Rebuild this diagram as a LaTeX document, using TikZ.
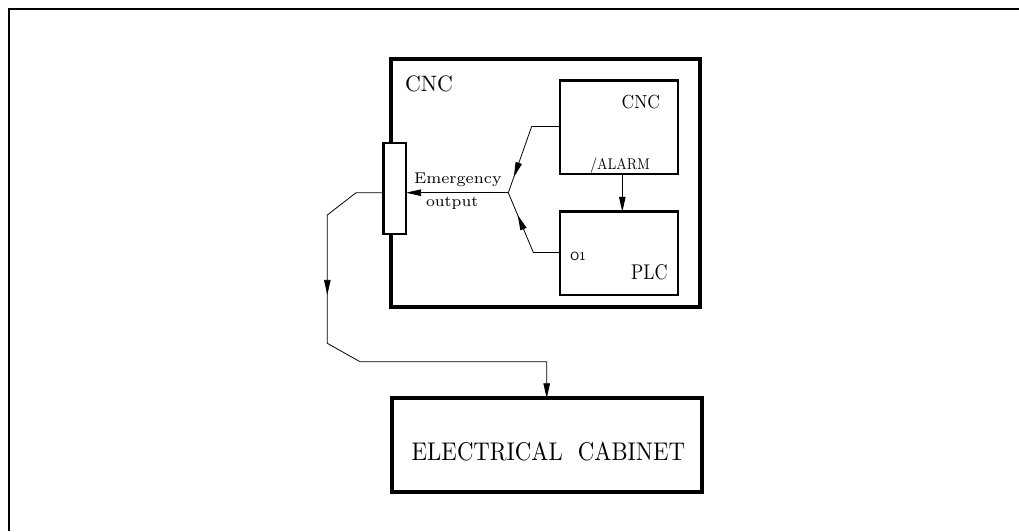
\documentclass[tikz,border=0pt]{standalone}
\usepackage{fontspec}
\usepackage{graphicx}
\usetikzlibrary{arrows.meta,decorations.markings}
\begin{document}
\begin{tikzpicture}[x=1pt,y=-1pt,
  thickbox/.style={draw,line width=3.8pt,minimum width=#1,inner sep=0pt,outer sep=0pt},
  midbox/.style={draw,line width=2.8pt,inner sep=0pt,outer sep=0pt},
  wire/.style={line width=0.8pt},
  tip/.style={-{Triangle[length=15pt,width=6.5pt]}},
  midtip/.style={postaction={decorate},decoration={markings,mark=at position #1 with {\arrow{Triangle[length=15pt,width=6.5pt]}}}},
  lbl/.style={inner sep=0pt,outer sep=0pt,font=\fontsize{10}{10}\selectfont},
  small/.style={inner sep=0pt,outer sep=0pt,font=\fontsize{7}{7}\selectfont}
]
\useasboundingbox (0,0) rectangle (1019,531);
% frame
\draw[line width=2.5pt] (9,531) -- (9,9) -- (1019,9);
% boxes
\node[thickbox=309pt,minimum height=247.4pt] (cnc) at (545.5,183) {};
\node[midbox,minimum width=118pt,minimum height=93.3pt] (cncin) at (619,127.4) {};
\node[midbox,minimum width=118pt,minimum height=83.3pt] (plc) at (619,253.4) {};
\node[draw,fill=white,line width=2.4pt,minimum width=22.7pt,minimum height=91.3pt,inner sep=0pt,outer sep=0pt] (conn) at (394.7,188.4) {};
\node[thickbox=310pt,minimum height=93.4pt] (cab) at (546.7,445) {};
% labels
\node[lbl,anchor=base west] (tcnc) at (405,91.7) {\resizebox{48pt}{15.7pt}{CNC}};
\node[lbl,anchor=base east] (tcncin) at (660,108.3) {\resizebox{38.3pt}{13.3pt}{CNC}};
\node[lbl,anchor=base east] (tplc) at (667.5,279.3) {\resizebox{36.5pt}{15pt}{PLC}};
\node[small,anchor=base west] (talarm) at (590,169) {\resizebox{60pt}{11.6pt}{/ALARM}};
\node[small,anchor=base west,font=\sffamily\fontsize{8}{8}\selectfont] (to1) at (570,260) {\resizebox{15.5pt}{8.5pt}{O1}};
\node[small,anchor=base west] (temg) at (414,183.3) {\resizebox{87.7pt}{10.6pt}{Emergency}};
\node[small,anchor=base west] (tout) at (426,206) {\resizebox{52.3pt}{9.5pt}{output}};
\node[lbl,anchor=base west] (tcab) at (411.7,460) {\resizebox{273.3pt}{18.3pt}{ELECTRICAL\ \ CABINET}};
% connectors
\coordinate (jn) at (508.3,192.7);
\draw[wire,tip] ([xshift=3.3pt]cncin.south) -- ([xshift=3.3pt]plc.north);
\draw[wire,midtip=82pt] ([yshift=1pt]cncin.west) -- ++(-28.3,0) -- (jn);
\draw[wire,midtip=67pt] ([yshift=1pt]plc.west) -- ++(-26.7,0) -- (jn);
\draw[wire,tip] (jn) -- (conn.east |- jn);
\draw[wire,tip,midtip=143.6pt] (conn.west |- jn) -- (356,192.7) -- (327.3,215) -- (327.3,343.3) -- (360,361.7) -- (cab.north |- 0,361.7) -- (cab.north);
\end{tikzpicture}
\end{document}
